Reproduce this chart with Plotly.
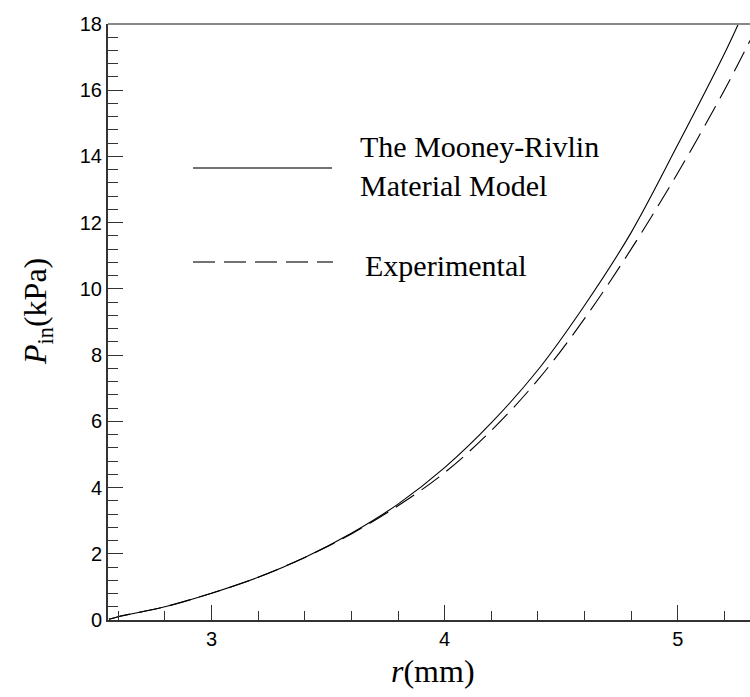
import plotly.graph_objects as go

# Data
r_model = [2.56, 2.6, 2.8, 3.0, 3.2, 3.4, 3.6, 3.8, 4.0, 4.2, 4.4, 4.6, 4.8, 5.0, 5.2, 5.26]
p_model = [0.02, 0.1, 0.40, 0.81, 1.29, 1.89, 2.62, 3.5, 4.6, 5.95, 7.55, 9.5, 11.7, 14.35, 17.1, 18.0]

r_exp = [2.56, 2.6, 2.8, 3.0, 3.2, 3.4, 3.6, 3.8, 4.0, 4.2, 4.4, 4.6, 4.8, 5.0, 5.2, 5.31]
p_exp = [0.02, 0.1, 0.40, 0.81, 1.29, 1.89, 2.60, 3.45, 4.45, 5.72, 7.25, 9.1, 11.2, 13.5, 16.0, 17.5]

legend_labels = ["The Mooney-Rivlin<br>Material Model", "Experimental"]

W, H = 750, 697
L, R, T, B = 108, 0, 24, 77
pw, ph = W - L - R, H - T - B

def px(xp):
    return (xp - L) / pw

def py(yp):
    return (H - B - yp) / ph

fig = go.Figure()
fig.add_trace(go.Scatter(x=r_model, y=p_model, mode="lines", line=dict(color="black", width=1.1, shape="spline"),
                         showlegend=False, cliponaxis=True))
fig.add_trace(go.Scatter(x=r_exp, y=p_exp, mode="lines", line=dict(color="black", width=1.1, dash="22px,9px", shape="spline"),
                         showlegend=False, cliponaxis=True))

serif = "Liberation Serif, Times New Roman, serif"
sans = "Liberation Sans, Arial, sans-serif"

fig.update_layout(
    width=W, height=H,
    margin=dict(l=L, r=R, t=T, b=B),
    paper_bgcolor="white", plot_bgcolor="white",
    showlegend=False,
    xaxis=dict(range=[2.556, 5.31], dtick=1, tick0=3, ticks="inside", ticklen=15, tickwidth=1.2, tickcolor="#333",
               minor=dict(dtick=0.2, tick0=3, ticks="inside", ticklen=9, tickwidth=1.2, tickcolor="#333"),
               showline=True, linecolor="#333", linewidth=2, showgrid=False, zeroline=False,
               tickfont=dict(family=sans, size=20, color="black")),
    yaxis=dict(range=[0, 18], dtick=2, ticks="inside", ticklen=15, tickwidth=1.2, tickcolor="#333",
               minor=dict(dtick=0.4, ticks="inside", ticklen=10, tickwidth=1.2, tickcolor="#333"),
               showline=True, linecolor="#333", linewidth=2, showgrid=False, zeroline=False,
               tickfont=dict(family=sans, size=20, color="black")),
)

# top frame line
fig.add_shape(type="line", xref="paper", yref="paper", x0=0, x1=1, y0=1, y1=1,
              line=dict(color="#888", width=2))

# legend samples
fig.add_shape(type="line", xref="paper", yref="paper", x0=px(193), x1=px(332), y0=py(168), y1=py(168),
              line=dict(color="#444", width=1.5))
fig.add_shape(type="line", xref="paper", yref="paper", x0=px(193), x1=px(333), y0=py(262), y1=py(262),
              line=dict(color="#444", width=1.5, dash="22px,9px"))

fig.add_annotation(xref="paper", yref="paper", x=px(358), y=py(166), text=legend_labels[0], showarrow=False,
                   xanchor="left", yanchor="middle", align="left", font=dict(family=serif, size=30, color="black"))
fig.add_annotation(xref="paper", yref="paper", x=px(363), y=py(265), text=legend_labels[1], showarrow=False,
                   xanchor="left", yanchor="middle", align="left", font=dict(family=serif, size=30, color="black"))

# axis titles
fig.add_annotation(xref="paper", yref="paper", x=px(433), y=py(671), text="<i>r</i>(mm)", showarrow=False,
                   xanchor="center", yanchor="middle", font=dict(family=serif, size=32, color="black"))
fig.add_annotation(xref="paper", yref="paper", x=px(37), y=py(312), text="<i>P</i><sub>in</sub>(kPa)", showarrow=False,
                   textangle=-90, xanchor="center", yanchor="middle", font=dict(family=serif, size=32, color="black"))

fig.write_html("out.html", config={"displayModeBar": False},
               post_script="document.body.style.margin='0';document.body.style.padding='0';document.body.style.overflow='hidden';")
